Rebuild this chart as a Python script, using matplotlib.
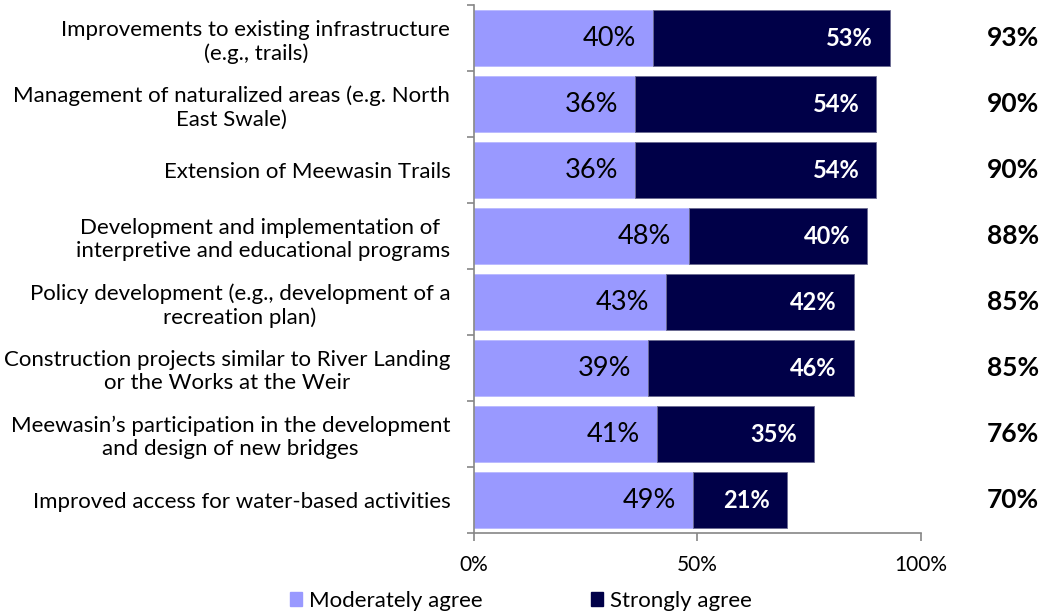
import matplotlib.pyplot as plt
import numpy as np

# survey items, top to bottom
items = [
    "Improvements to existing infrastructure\n(e.g., trails)",
    "Management of naturalized areas (e.g. North\nEast Swale)",
    "Extension of Meewasin Trails",
    "Development and implementation of \ninterpretive and educational programs",
    "Policy development (e.g., development of a\nrecreation plan)",
    "Construction projects similar to River Landing\nor the Works at the Weir",
    "Meewasin\u2019s participation in the development\nand design of new bridges",
    "Improved access for water-based activities",
]
moderately = [40, 36, 36, 48, 43, 39, 41, 49]
strongly = [53, 54, 54, 40, 42, 46, 35, 21]
totals = [93, 90, 90, 88, 85, 85, 76, 70]

light = '#9999FF'
dark = '#000048'
grey = '#868686'

plt.rcParams['font.family'] = ['Lato', 'DejaVu Sans']

fig = plt.figure(figsize=(10.5, 6.13), dpi=100)
ax = fig.add_axes([0.4514, 0.1305, 0.4257, 0.8613])

y = np.arange(len(items))
ax.barh(y, moderately, height=0.85, color=light, edgecolor='#B8B8FF', linewidth=0.6)
ax.barh(y, strongly, left=moderately, height=0.85, color=dark, edgecolor='#6A6A90', linewidth=0.6)

for i in range(len(items)):
    m = moderately[i]
    s = strongly[i]
    ax.text(m - 3.8, y[i], f"{m}%", ha='right', va='center', fontsize=19.5, color='black')
    ax.text(m + s - 3.8, y[i], f"{s}%", ha='right', va='center', fontsize=17,
            color='white', fontweight='bold')
    ax.text(120.5, y[i], f"{totals[i]}%", ha='center', va='center', fontsize=19,
            fontweight='bold', color='black', clip_on=False)

ax.set_xlim(0, 100)
ax.set_ylim(len(items) - 0.5, -0.5)
ax.set_xticks([0, 50, 100])
ax.set_xticklabels(['0%', '50%', '100%'], fontsize=15)
ax.set_yticks(y)
ax.set_yticklabels(items, fontsize=16, linespacing=1.2, multialignment='center')
ax.set_yticks(np.arange(len(items) + 1) - 0.5, minor=True)
ax.tick_params(axis='y', which='major', length=0, pad=17)
ax.tick_params(axis='y', which='minor', length=5, color=grey, width=1.2)
ax.tick_params(axis='x', length=6, color=grey, width=1.2, pad=10)

for side in ['top', 'right']:
    ax.spines[side].set_visible(False)
for side in ['left', 'bottom']:
    ax.spines[side].set_color(grey)
    ax.spines[side].set_linewidth(1.2)

handles = [plt.Rectangle((0, 0), 1, 1, color=light), plt.Rectangle((0, 0), 1, 1, color=dark)]
fig.legend(handles, ['Moderately agree', 'Strongly agree'], loc='center',
           bbox_to_anchor=(0.496, 0.02), ncol=2, frameon=False, fontsize=16,
           handlelength=0.55, handleheight=0.55, handletextpad=0.3, columnspacing=4.9)

fig.savefig('out.png', dpi=100)
